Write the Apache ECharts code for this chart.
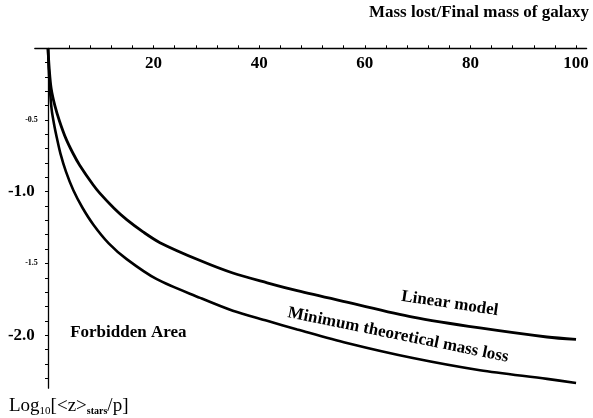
<!DOCTYPE html>
<html>
<head>
<meta charset="utf-8">
<script src="https://cdn.jsdelivr.net/npm/echarts@6/dist/echarts.min.js"></script>
<style>
html,body{margin:0;padding:0;background:#fff;}
#c{width:593px;height:418px;}
</style>
</head>
<body>
<div id="c"></div>
<script>
// Data
const linearX = [0, 0.25, 0.6, 1.3, 2.2, 3.4, 4.7, 6.0, 8.5, 9.8, 12.5, 14.9, 18, 21.2, 28.8, 35, 41.5, 47.2, 56.6, 69.1, 81.8, 94.5, 100];
const linearY = [0, -0.15, -0.28, -0.40, -0.51, -0.63, -0.73, -0.815, -0.95, -1.01, -1.115, -1.195, -1.28, -1.355, -1.48, -1.567, -1.635, -1.69, -1.77, -1.874, -1.95, -2.013, -2.03];
const minX = [0, 0.15, 0.35, 0.7, 1.2, 1.65, 2.4, 3.4, 4.8, 6.5, 8.6, 11.5, 14.9, 20.6, 28.8, 35, 41.5, 47.2, 56.6, 69.1, 81.8, 94.5, 100];
const minY = [0, -0.15, -0.28, -0.43, -0.54, -0.62, -0.74, -0.86, -0.99, -1.11, -1.23, -1.36, -1.47, -1.61, -1.74, -1.83, -1.90, -1.96, -2.055, -2.16, -2.245, -2.305, -2.334];
const xTickLabels = [20, 40, 60, 80, 100];
const xMinorTicks = [4, 8, 12, 16, 20, 24, 28, 32, 36, 40, 44, 48, 52, 56, 60, 64, 68, 72, 76, 80, 84, 88, 92, 96, 100];
const yTickLabels = [-0.5, -1.0, -1.5, -2.0];
const yMinorTicks = [-0.1,-0.2,-0.3,-0.4,-0.5,-0.6,-0.7,-0.8,-0.9,-1.0,-1.1,-1.2,-1.3,-1.4,-1.5,-1.6,-1.7,-1.8,-1.9,-2.0,-2.1,-2.2,-2.3];
const xTitle = 'Mass lost/Final mass of galaxy';
const regionLabel = 'Forbidden Area';
const linearLabel = 'Linear model';
const minLabel = 'Minimum theoretical mass loss';

const serif = '"Liberation Serif", "DejaVu Serif", serif';
const toPairs = (xs, ys) => xs.map((x, i) => [x, ys[i]]);

const chart = echarts.init(document.getElementById('c'), null, {renderer: 'canvas'});
const option = {
  animation: false,
  backgroundColor: '#fff',
  grid: {left: 34.8, right: 6.4, top: 48.3, bottom: 29.8, outerBoundsMode: 'none', containLabel: false},
  xAxis: {
    type: 'value', min: -2.5, max: 102, position: 'top',
    axisLine: {onZero: false, lineStyle: {color: '#000', width: 1.3}},
    axisTick: {show: true, inside: false, length: 3, customValues: xMinorTicks, lineStyle: {color: '#000', width: 1}},
    axisLabel: {customValues: xTickLabels, inside: true, margin: 7, color: '#000', fontFamily: serif, fontWeight: 'bold', fontSize: 17},
    splitLine: {show: false}
  },
  yAxis: {
    type: 'value', min: -2.37, max: 0,
    axisLine: {onZero: true, lineStyle: {color: '#000', width: 1.3}},
    axisTick: {show: true, length: 3, customValues: yMinorTicks, lineStyle: {color: '#000', width: 1}},
    axisLabel: {
      customValues: yTickLabels, margin: -3, color: '#000',
      formatter: v => (Math.abs(v) === 1 || Math.abs(v) === 2) ? '{big|' + v.toFixed(1) + '}' : '{small|' + v.toFixed(1) + '}',
      rich: {
        big: {fontFamily: serif, fontWeight: 'bold', fontSize: 17, color: '#000', padding: [0, 3, 0, 0]},
        small: {fontFamily: serif, fontWeight: 'bold', fontSize: 8, color: '#000'}
      }
    },
    splitLine: {show: false}
  },
  series: [
    {type: 'line', name: linearLabel, data: toPairs(linearX, linearY), showSymbol: false, smooth: 0.3,
     lineStyle: {color: '#000', width: 2.8}, z: 3},
    {type: 'line', name: minLabel, data: toPairs(minX, minY), showSymbol: false, smooth: 0.3,
     lineStyle: {color: '#000', width: 2.6}, z: 3}
  ]
};
chart.setOption(option);

const p = (x, y) => chart.convertToPixel({gridIndex: 0}, [x, y]);
const linPos = p(76.1, -1.78);
const minPos = p(66.3, -2.0);
const forbPos = p(4.2, -1.98);
chart.setOption({
  graphic: [
    {type: 'text', right: 4, top: 4, style: {text: xTitle, font: 'bold 17px ' + serif, fill: '#000'}},
    {type: 'text', x: forbPos[0], y: forbPos[1], style: {text: regionLabel, font: 'bold 17px ' + serif, fill: '#000', verticalAlign: 'middle'}},
    {type: 'text', x: linPos[0], y: linPos[1], rotation: -8.5 * Math.PI / 180,
     style: {text: linearLabel, font: 'bold 17px ' + serif, fill: '#000', align: 'center', verticalAlign: 'middle'}},
    {type: 'text', x: minPos[0], y: minPos[1], rotation: -11.5 * Math.PI / 180,
     style: {text: minLabel, font: 'bold 17px ' + serif, fill: '#000', align: 'center', verticalAlign: 'middle'}},
    {type: 'text', left: 9, top: 397,
     style: {
       text: '{m|Log}{s|10}{m|[<z>}{t|stars}{m|/p]}',
       rich: {
         m: {fontFamily: serif, fontSize: 19, fill: '#000', color: '#000', verticalAlign: 'bottom', height: 20},
         s: {fontFamily: serif, fontSize: 11, fill: '#000', color: '#000', verticalAlign: 'bottom', height: 15, padding: [0,0,-2,0]},
         t: {fontFamily: serif, fontSize: 10, fontWeight: 'bold', fill: '#000', color: '#000', verticalAlign: 'bottom', height: 15, padding: [0,0,-2,0]}
       }
     }}
  ]
});
</script>
</body>
</html>
